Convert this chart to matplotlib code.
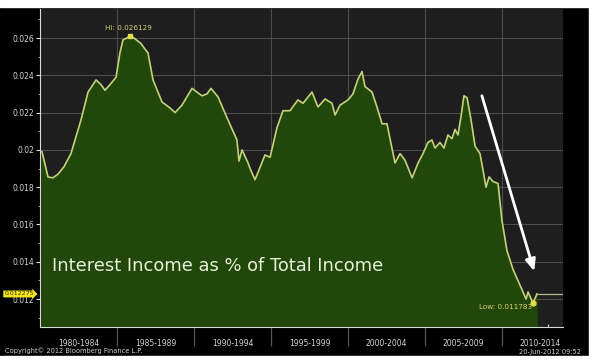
import matplotlib
matplotlib.use("Agg")

import matplotlib.pyplot as plt
import matplotlib.transforms as mtransforms
from matplotlib.patches import Rectangle
import numpy as np

# interest income as a share of total income
years = [1980.13, 1980.52, 1980.84, 1981.17, 1981.56, 1982.01, 1982.66, 1983.12,
         1983.64, 1983.96, 1984.22, 1984.55, 1984.94, 1985.19, 1985.39, 1985.65,
         1985.84, 1986.10, 1986.56, 1986.82, 1987.01, 1987.34, 1987.92, 1988.44,
         1988.77, 1989.22, 1989.87, 1990.19, 1990.52, 1990.84, 1991.10, 1991.56,
         1992.21, 1992.79, 1992.92, 1993.12, 1993.51, 1993.64, 1993.96, 1994.16,
         1994.61, 1994.94, 1995.39, 1995.78, 1996.23, 1996.75, 1997.08, 1997.66,
         1998.05, 1998.51, 1998.96, 1999.16, 1999.48, 2000.00, 2000.32, 2000.65,
         2000.91, 2001.10, 2001.56, 2001.88, 2002.21, 2002.53, 2003.05, 2003.38,
         2003.70, 2004.16, 2004.55, 2004.87, 2005.19, 2005.45, 2005.65, 2005.97,
         2006.23, 2006.49, 2006.75, 2006.95, 2007.14, 2007.34, 2007.53, 2007.73,
         2007.99, 2008.25, 2008.57, 2008.77, 2008.96, 2009.16, 2009.42, 2009.74,
         2010.00, 2010.32, 2010.71, 2011.30, 2011.56, 2011.69, 2012.01, 2012.27]
ratio = [0.0199, 0.01855, 0.0185, 0.0187, 0.0191, 0.0198, 0.0216, 0.0231,
         0.02375, 0.0235, 0.0232, 0.0235, 0.0239, 0.0252, 0.0259, 0.0260,
         0.026129, 0.0260, 0.0257, 0.0254, 0.0252, 0.02375, 0.02257, 0.02225,
         0.0220, 0.0224, 0.0233, 0.0231, 0.0229, 0.0230, 0.0233, 0.02284,
         0.0216, 0.02053, 0.0194, 0.0200, 0.0193, 0.0190, 0.0184, 0.0188,
         0.01973, 0.0196, 0.0212, 0.0221, 0.0221, 0.02268, 0.0225, 0.0231,
         0.0223, 0.02273, 0.0225, 0.02187, 0.0224, 0.02268, 0.0230, 0.0238,
         0.0242, 0.0234, 0.0231, 0.0223, 0.0214, 0.0214, 0.0193, 0.0198,
         0.01945, 0.0185, 0.0193, 0.0198, 0.0204, 0.02053, 0.0201, 0.0204,
         0.0201, 0.0208, 0.0206, 0.0211, 0.0208, 0.0218, 0.0229, 0.0228,
         0.0216, 0.0202, 0.0198, 0.0189, 0.0180, 0.01855, 0.0183, 0.0182,
         0.0162, 0.0146, 0.0136, 0.0125, 0.0120, 0.01238, 0.011783, 0.012275]

period_labels = ["1980-1984", "1985-1989", "1990-1994", "1995-1999",
                 "2000-2004", "2005-2009", "2010-2014"]
period_starts = [1980, 1985, 1990, 1995, 2000, 2005, 2010]
y_ticks = [0.012, 0.014, 0.016, 0.018, 0.02, 0.022, 0.024, 0.026]
y_ticklabels = ["0.012", "0.014", "0.016", "0.018", "0.02", "0.022", "0.024", "0.026"]

LINE = "#c4d07a"
FILL = "#22470a"
BG = "#1e1e1e"
TXT = "#d4d4d4"
YEL = "#e4dc4a"

W, H = 593, 361
fig = plt.figure(figsize=(W / 100, H / 100), dpi=100)
fig.patch.set_facecolor("black")

# white frame of the screenshot
fig.patches.append(Rectangle((0, 1 - 7 / H), 1, 7 / H, transform=fig.transFigure,
                             color="white", zorder=-1))
fig.patches.append(Rectangle((0, 0), 1, 5 / H, transform=fig.transFigure,
                             color="white", zorder=-1))
fig.patches.append(Rectangle((589 / W, 0), 4 / W, 1, transform=fig.transFigure,
                             color="white", zorder=-1))

ax = fig.add_axes([40 / W, 1 - 327 / H, (563 - 40) / W, (327 - 9) / H])
ax.set_facecolor(BG)

x = np.array(years)
y = np.array(ratio)
ax.fill_between(x, y, 0, color=FILL, zorder=2)
ax.plot(x, y, color=LINE, lw=1.2, zorder=3, solid_joinstyle="round")
# last value carried to the right edge
ax.plot([x[-1], 2013.96], [y[-1], y[-1]], color="#b8b890", lw=0.9, zorder=3)

ax.set_xlim(1980, 2013.96)
ax.set_ylim(0.010504, 0.027555)

ax.set_yticks(y_ticks)
ax.set_yticklabels(y_ticklabels)
ax.set_yticks(np.arange(0.011, 0.0275, 0.001), minor=True)
ax.tick_params(axis="y", which="major", colors="#e0e0e0", labelcolor=TXT,
               labelsize=5.5, length=3, width=0.8, pad=1)
ax.tick_params(axis="y", which="minor", colors="#bbbbbb", length=1.5, width=0.6)

ax.set_xticks(period_starts[1:])
ax.set_xticklabels([])
ax.set_xticks([s + 2.5 for s in period_starts], minor=True)
ax.set_xticklabels(period_labels, minor=True)
ax.tick_params(axis="x", which="major", colors="#555555", length=14, width=0.9)
ax.tick_params(axis="x", which="minor", length=0, labelcolor=TXT,
               labelsize=5.5, pad=9)

# yearly ticks on the axis line
sec = ax.secondary_xaxis("bottom")
sec.set_xticks(np.arange(1981, 2014, 1))
sec.set_xticklabels([])
sec.tick_params(direction="in", length=2.5, width=0.8, colors="#cccccc")
sec.spines["bottom"].set_visible(False)

ax.grid(True, which="major", color="#4c4c4c", lw=0.8, zorder=1)
ax.set_axisbelow(True)
for side in ["top", "right"]:
    ax.spines[side].set_visible(False)
ax.spines["left"].set_color("#d8d8d8")
ax.spines["bottom"].set_color("#d8d8d8")
ax.spines["left"].set_linewidth(0.8)
ax.spines["bottom"].set_linewidth(0.8)

# high / low markers
i_hi = int(np.argmax(y))
i_lo = int(np.argmin(y))
ax.plot(x[i_hi], y[i_hi], marker="s", ms=3.5, color=YEL, zorder=5)
ax.text(x[i_hi] - 0.1, y[i_hi] + 0.00022, f"Hi: {y[i_hi]:.6f}", color="#d8d070",
        fontsize=5.2, ha="center", va="bottom", zorder=5)
ax.plot(x[i_lo], y[i_lo], marker="o", ms=3.5, color=YEL, zorder=5)
ax.text(x[i_lo] - 0.05, y[i_lo] - 0.00005, f"Low: {y[i_lo]:.6f}", color="#d8d070",
        fontsize=5.2, ha="right", va="top", zorder=5)

# last value tag on the axis
trans = mtransforms.blended_transform_factory(ax.transAxes, ax.transData)
ax.text(-0.012, y[-1], f"{y[-1]:.6f}", transform=trans, ha="right", va="center",
        fontsize=4.5, color="#3a3000", zorder=6, clip_on=False,
        bbox=dict(boxstyle="rarrow,pad=0.15", fc="#f2e61e", ec="none"))

# downward trend arrow
ax.annotate("", xy=(2012.14, 0.01335), xytext=(2008.64, 0.02305),
            arrowprops=dict(arrowstyle="-|>,head_length=0.7,head_width=0.3",
                            color="white", lw=2.0), zorder=6)

ax.text(1980.78, 0.01378, "Interest Income as % of Total Income", color="#e8f0da",
        fontsize=12.9, ha="left", va="center", zorder=6)

fig.text(5 / W, 1 - 351 / H, "Copyright\u00a9 2012 Bloomberg Finance L.P.",
         color="#cfcfcf", fontsize=4.8, ha="left", va="center")
fig.text(519 / W, 1 - 352 / H, "20-Jun-2012 09:52", color="#cfcfcf",
         fontsize=4.8, ha="left", va="center")

fig.savefig("out.png", dpi=100, facecolor=fig.get_facecolor())
